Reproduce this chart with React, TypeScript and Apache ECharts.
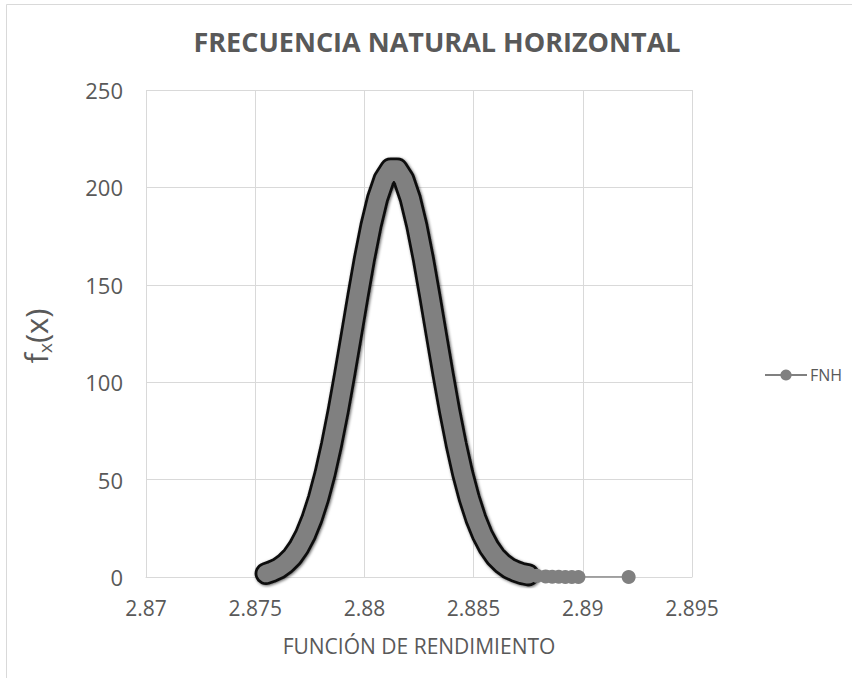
import React, { useEffect, useRef } from "react";
import * as echarts from "echarts";

// Values
const X_VALUES = [
  2.8755, 2.8758, 2.8761, 2.8764, 2.8767, 2.877, 2.8773, 2.8776, 2.8779, 2.8782,
  2.8785, 2.8788, 2.8791, 2.8794, 2.8797, 2.88, 2.8803, 2.8806, 2.8809, 2.8812,
  2.8815, 2.8818, 2.8821, 2.8824, 2.8827, 2.883, 2.8833, 2.8836, 2.8839, 2.8842,
  2.8845, 2.8848, 2.8851, 2.8854, 2.8857, 2.886, 2.8863, 2.8866, 2.8869, 2.8872,
  2.8875, 2.8879, 2.8883, 2.8886, 2.8889, 2.8892, 2.8895, 2.8898, 2.8921,
];
const FX_VALUES = [
  1.8, 3.0, 4.6, 7.1, 10.5, 15.3, 21.7, 30.0, 40.4, 53.1,
  68.2, 85.3, 104.2, 124.0, 144.0, 163.2, 180.3, 194.3, 204.2, 209.4,
  209.4, 204.2, 194.3, 180.3, 163.2, 144.0, 124.0, 104.2, 85.3, 68.2,
  53.1, 40.4, 30.0, 21.7, 15.3, 10.5, 7.1, 4.6, 3.0, 1.8,
  1.1, 0.6, 0.3, 0.1, 0.1, 0.0, 0.0, 0.0, 0.0,
];
const SERIES_NAME = "FNH";
const TITLE = "FRECUENCIA NATURAL HORIZONTAL";
const X_NAME = "FUNCIÓN DE RENDIMIENTO";
const X_MIN = 2.87;
const X_MAX = 2.895;
const X_STEP = 0.005;
const Y_MIN = 0;
const Y_MAX = 250;
const Y_STEP = 50;
const DENSE_COUNT = 41; // points that form the dense band

const FONT = "'Open Sans', sans-serif";
const TEXT_COLOR = "#595959";
const GRID_COLOR = "#d9d9d9";
const MARK_COLOR = "#808080";

export default function App() {
  const ref = useRef<HTMLDivElement>(null);

  useEffect(() => {
    if (!ref.current) return;
    const chart = echarts.init(ref.current, undefined, { renderer: "svg" });
    const points = X_VALUES.map((x, i) => [x, FX_VALUES[i]]);
    const dense = points.slice(0, DENSE_COUNT);

    const option = {
      animation: false,
      textStyle: { fontFamily: FONT },
      grid: { left: 146, right: 160, top: 90, bottom: 101 },
      xAxis: {
        type: "value",
        min: X_MIN,
        max: X_MAX,
        interval: X_STEP,
        axisLine: { show: true, lineStyle: { color: GRID_COLOR, width: 1 } },
        axisTick: { show: false },
        splitLine: { show: true, lineStyle: { color: GRID_COLOR, width: 1 } },
        axisLabel: {
          fontSize: 21,
          color: TEXT_COLOR,
          margin: 20,
          fontFamily: FONT,
          formatter: (v: number) => String(parseFloat(v.toFixed(3))),
        },
        name: X_NAME,
        nameLocation: "middle",
        nameGap: 58,
        nameTextStyle: { fontSize: 21, color: TEXT_COLOR, fontFamily: FONT },
      },
      yAxis: {
        type: "value",
        min: Y_MIN,
        max: Y_MAX,
        interval: Y_STEP,
        axisLine: { show: false },
        axisTick: { show: false },
        splitLine: { show: true, lineStyle: { color: GRID_COLOR, width: 1 } },
        axisLabel: { fontSize: 22, color: TEXT_COLOR, margin: 23, fontFamily: FONT },
      },
      legend: {
        data: [SERIES_NAME],
        left: 759,
        top: 362,
        itemWidth: 42,
        itemHeight: 14,
        itemGap: 4,
        textStyle: { fontSize: 16, color: TEXT_COLOR, fontFamily: FONT, padding: [0, 0, 0, -2] },
      },
      series: [
        {
          name: "band-edge",
          type: "line",
          data: dense,
          symbol: "none",
          showSymbol: false,
          silent: true,
          z: 1,
          lineStyle: {
            width: 23,
            color: "#111111",
            cap: "round",
            join: "round",
            shadowColor: "rgba(0,0,0,0.6)",
            shadowBlur: 3,
            shadowOffsetX: 1,
            shadowOffsetY: 1,
          },
        },
        {
          name: "band",
          type: "line",
          data: dense,
          symbol: "none",
          showSymbol: false,
          silent: true,
          z: 2,
          lineStyle: {
            width: 17.5,
            color: MARK_COLOR,
            cap: "round",
            join: "round",
          },
        },
        {
          name: SERIES_NAME,
          type: "line",
          data: points,
          symbol: "circle",
          symbolSize: 14,
          showSymbol: true,
          z: 3,
          itemStyle: { color: MARK_COLOR },
          lineStyle: { width: 1.5, color: MARK_COLOR },
        },
      ],
      graphic: [
        {
          type: "rect",
          silent: true,
          shape: { x: 6.5, y: 4.5, width: 900, height: 700 },
          style: { fill: "none", stroke: GRID_COLOR, lineWidth: 1 },
        },
        {
          type: "text",
          x: 437,
          y: 41,
          style: {
            text: TITLE,
            fill: TEXT_COLOR,
            fontSize: 27,
            fontWeight: "bold",
            fontFamily: FONT,
            align: "center",
            verticalAlign: "middle",
          },
        },
        {
          type: "text",
          x: 36,
          y: 336,
          rotation: Math.PI / 2,
          style: {
            text: "{m|f}{s|x}{m|(x)}",
            align: "center",
            verticalAlign: "middle",
            fill: TEXT_COLOR,
            rich: {
              m: { fontSize: 31, fill: TEXT_COLOR, fontFamily: FONT, lineHeight: 36, verticalAlign: "middle" },
              s: { fontSize: 19, fill: TEXT_COLOR, fontFamily: FONT, lineHeight: 36, verticalAlign: "bottom" },
            },
          },
        },
      ],
    };

    chart.setOption(option as any);
    return () => chart.dispose();
  }, []);

  return (
    <div
      ref={ref}
      style={{ position: "fixed", left: 0, top: 0, width: 852, height: 678, background: "#fff" }}
    />
  );
}
